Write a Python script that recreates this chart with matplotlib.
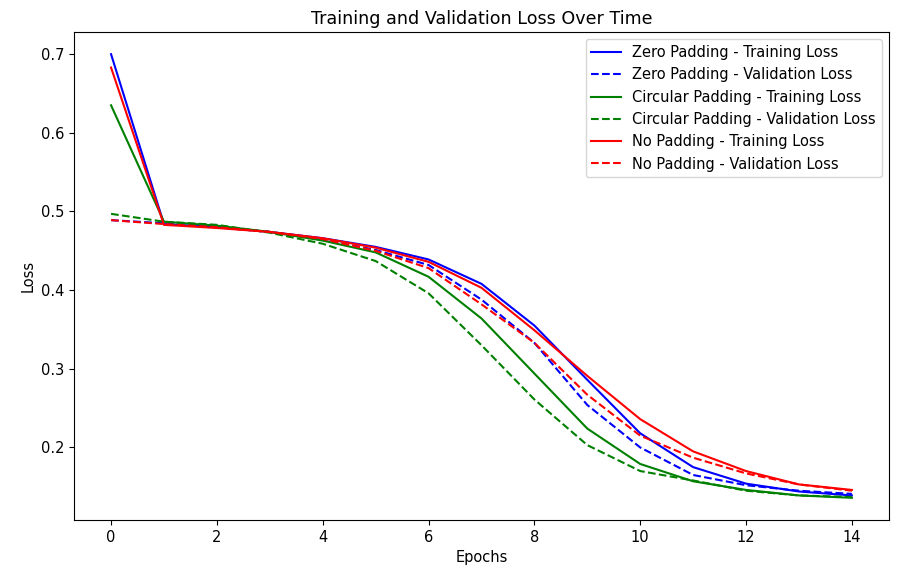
import numpy as np
import matplotlib
matplotlib.use('Agg')
import matplotlib.pyplot as plt

# loss values per epoch
epochs = np.arange(15)

zero_train = [0.700, 0.484, 0.480, 0.474, 0.466, 0.455, 0.439, 0.408, 0.355, 0.286, 0.218, 0.175, 0.154, 0.144, 0.139]
zero_val   = [0.489, 0.485, 0.480, 0.474, 0.465, 0.451, 0.432, 0.388, 0.333, 0.254, 0.200, 0.165, 0.152, 0.145, 0.141]
circ_train = [0.635, 0.487, 0.482, 0.474, 0.463, 0.448, 0.417, 0.364, 0.294, 0.224, 0.179, 0.157, 0.146, 0.139, 0.136]
circ_val   = [0.497, 0.487, 0.483, 0.473, 0.459, 0.437, 0.396, 0.330, 0.261, 0.203, 0.170, 0.158, 0.145, 0.139, 0.137]
no_train   = [0.683, 0.483, 0.479, 0.474, 0.466, 0.454, 0.436, 0.403, 0.349, 0.291, 0.236, 0.195, 0.170, 0.153, 0.146]
no_val     = [0.489, 0.484, 0.480, 0.474, 0.465, 0.450, 0.428, 0.382, 0.333, 0.267, 0.215, 0.187, 0.167, 0.153, 0.145]

plt.rcParams['font.size'] = 10.5

fig, ax = plt.subplots(figsize=(8.97, 5.66), dpi=100)
fig.subplots_adjust(left=0.0825, right=0.991, top=0.9435, bottom=0.0813)

ax.plot(epochs, zero_train, 'b-', label='Zero Padding - Training Loss')
ax.plot(epochs, zero_val, 'b--', label='Zero Padding - Validation Loss')
ax.plot(epochs, circ_train, 'g-', label='Circular Padding - Training Loss')
ax.plot(epochs, circ_val, 'g--', label='Circular Padding - Validation Loss')
ax.plot(epochs, no_train, 'r-', label='No Padding - Training Loss')
ax.plot(epochs, no_val, 'r--', label='No Padding - Validation Loss')

ax.set_title('Training and Validation Loss Over Time')
ax.set_xlabel('Epochs')
ax.set_ylabel('Loss')
ax.legend()

plt.savefig('out.png')
